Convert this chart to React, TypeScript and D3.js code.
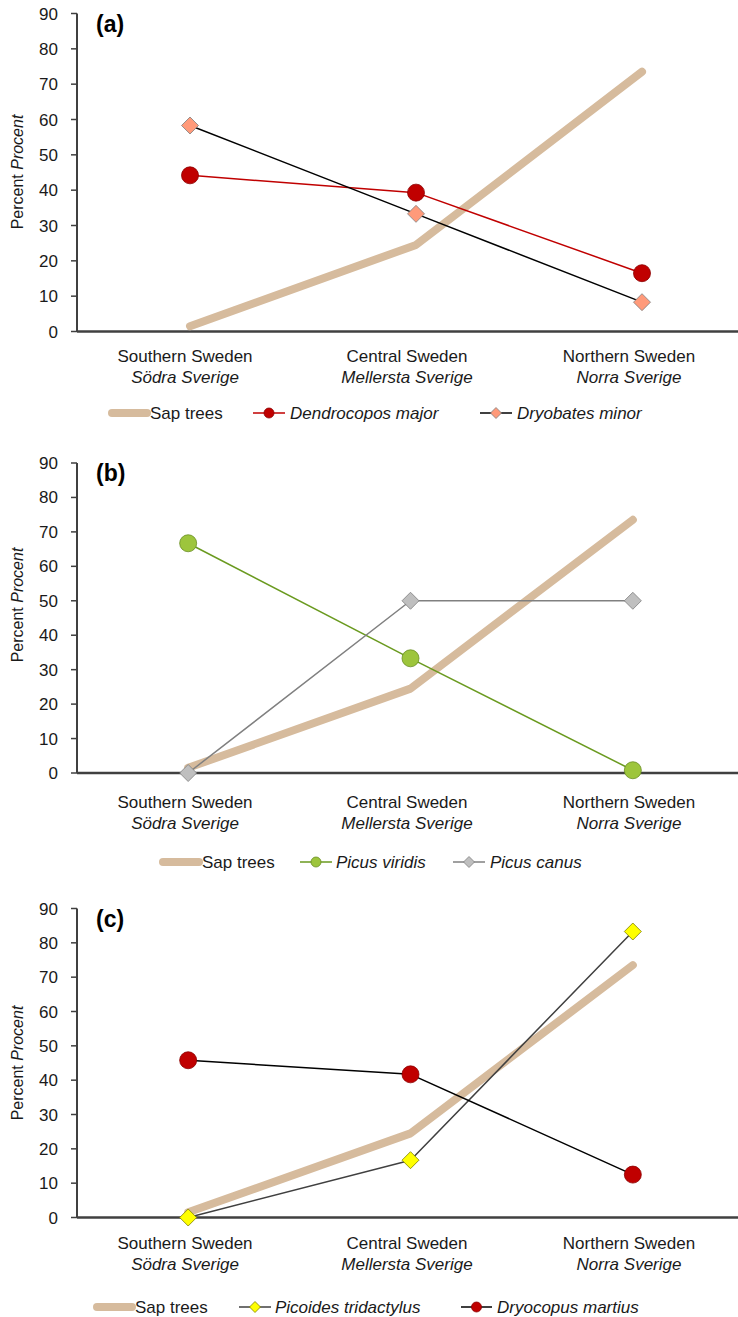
import React from "react";
import * as d3 from "d3";

const categories = ["Southern Sweden", "Central Sweden", "Northern Sweden"];
const categoriesSv = ["Södra Sverige", "Mellersta Sverige", "Norra Sverige"];
const yTicks = [0, 10, 20, 30, 40, 50, 60, 70, 80, 90];

const sapTrees = [1.5, 24.5, 73.5];
const dendrocoposMajor = [44.2, 39.3, 16.5];
const dryobatesMinor = [58.3, 33.3, 8.3];
const picusViridis = [66.7, 33.3, 0.8];
const picusCanus = [0, 50, 50];
const picoidesTridactylus = [0, 16.7, 83.3];
const dryocopusMartius = [45.8, 41.7, 12.5];

const FONT = "'Liberation Sans', Arial, Helvetica, sans-serif";
const AXIS = "#404040";
const SAP = "#D6BB9D";

type Series = {
  name: string;
  italic: boolean;
  values: number[];
  line: string;
  lw: number;
  marker: "circle" | "diamond" | "none";
  fill?: string;
  stroke?: string;
  legend: [number, number, number];
};

type Panel = {
  label: string;
  top: number;
  bottom: number;
  xRange: [number, number];
  labelOff: [number, number];
  legendY: number;
  titleY: number;
  series: Series[];
};

const sapSeries = (legend: [number, number, number]): Series => ({
  name: "Sap trees",
  italic: false,
  values: sapTrees,
  line: SAP,
  lw: 8,
  marker: "none",
  legend,
});

const panels: Panel[] = [
  {
    label: "(a)",
    top: 13.5,
    bottom: 331.5,
    xRange: [77, 755],
    labelOff: [24.5, 45.5],
    legendY: 413,
    titleY: 172,
    series: [
      sapSeries([112, 147, 150]),
      {
        name: "Dendrocopos major",
        italic: true,
        values: dendrocoposMajor,
        line: "#C00000",
        lw: 1.5,
        marker: "circle",
        fill: "#C00000",
        stroke: "#8B0000",
        legend: [253, 285, 290],
      },
      {
        name: "Dryobates minor",
        italic: true,
        values: dryobatesMinor,
        line: "#000000",
        lw: 1.5,
        marker: "diamond",
        fill: "#FF9A7A",
        stroke: "#7F7F7F",
        legend: [480, 512, 517],
      },
    ],
  },
  {
    label: "(b)",
    top: 463,
    bottom: 773,
    xRange: [77, 744],
    labelOff: [29, 50],
    legendY: 862,
    titleY: 605,
    series: [
      sapSeries([163, 199, 202]),
      {
        name: "Picus viridis",
        italic: true,
        values: picusViridis,
        line: "#6A9A1F",
        lw: 1.5,
        marker: "circle",
        fill: "#9DC53C",
        stroke: "#6A8E23",
        legend: [300, 332, 336],
      },
      {
        name: "Picus canus",
        italic: true,
        values: picusCanus,
        line: "#808080",
        lw: 1.5,
        marker: "diamond",
        fill: "#BFBFBF",
        stroke: "#7F7F7F",
        legend: [453, 485, 490],
      },
    ],
  },
  {
    label: "(c)",
    top: 908.5,
    bottom: 1217.5,
    xRange: [77, 744],
    labelOff: [25.5, 46.5],
    legendY: 1307,
    titleY: 1063,
    series: [
      sapSeries([97, 132, 135]),
      {
        name: "Picoides tridactylus",
        italic: true,
        values: picoidesTridactylus,
        line: "#404040",
        lw: 1.5,
        marker: "diamond",
        fill: "#FFFF00",
        stroke: "#7F7F00",
        legend: [239, 271, 275],
      },
      {
        name: "Dryocopus martius",
        italic: true,
        values: dryocopusMartius,
        line: "#000000",
        lw: 1.5,
        marker: "circle",
        fill: "#C00000",
        stroke: "#8B0000",
        legend: [461, 492, 497],
      },
    ],
  },
];

function Marker({ kind, x, y, size, fill, stroke }: { kind: string; x: number; y: number; size: number; fill?: string; stroke?: string }) {
  if (kind === "circle") {
    return <circle cx={x} cy={y} r={size} fill={fill} stroke={stroke} strokeWidth={0.8} />;
  }
  if (kind === "diamond") {
    const s = size;
    return (
      <path
        d={`M${x},${y - s}L${x + s},${y}L${x},${y + s}L${x - s},${y}Z`}
        fill={fill}
        stroke={stroke}
        strokeWidth={0.8}
      />
    );
  }
  return null;
}

function PanelView({ p }: { p: Panel }) {
  const x = d3.scaleBand<string>().domain(categories).range(p.xRange).padding(0);
  const xl = d3.scaleBand<string>().domain(categories).range([74, 740]).padding(0);
  const y = d3.scaleLinear().domain([0, 90]).range([p.bottom, p.top]);
  const cx = (c: string) => (x(c) ?? 0) + x.bandwidth() / 2;
  const cxl = (c: string) => (xl(c) ?? 0) + xl.bandwidth() / 2;
  const line = d3
    .line<number>()
    .x((_, i) => cx(categories[i]))
    .y((v) => y(v));

  return (
    <g>
      {/* y axis */}
      <line x1={77} x2={77} y1={y(90)} y2={y(0)} stroke={AXIS} strokeWidth={2} />
      {yTicks.map((t) => (
        <g key={t}>
          <line x1={71} x2={77} y1={y(t)} y2={y(t)} stroke={AXIS} strokeWidth={1.5} />
          <text x={58} y={y(t) + 6} textAnchor="end" fontSize={17} fill="#1a1a1a">
            {t}
          </text>
        </g>
      ))}
      {/* y title */}
      <text
        transform={`translate(23,${p.titleY}) rotate(-90)`}
        textAnchor="middle"
        fontSize={16}
        fill="#1a1a1a"
      >
        Percent <tspan fontStyle="italic">Procent</tspan>
      </text>
      {/* panel label */}
      <text x={96} y={p.top + 18} fontSize={23} fontWeight="bold" fill="#000">
        {p.label}
      </text>
      {/* x axis */}
      <line x1={77} x2={738} y1={y(0)} y2={y(0)} stroke={AXIS} strokeWidth={2.5} />
      {categories.map((c, i) => (
        <g key={c}>
          <text x={cxl(c)} y={p.bottom + p.labelOff[0] + 6} textAnchor="middle" fontSize={17} fill="#1a1a1a">
            {c}
          </text>
          <text
            x={cxl(c)}
            y={p.bottom + p.labelOff[1] + 6}
            textAnchor="middle"
            fontSize={17}
            fontStyle="italic"
            fill="#1a1a1a"
          >
            {categoriesSv[i]}
          </text>
        </g>
      ))}
      {/* series */}
      {p.series.map((s) => (
        <g key={s.name}>
          <path
            d={line(s.values) ?? ""}
            fill="none"
            stroke={s.line}
            strokeWidth={s.lw}
            strokeLinecap="round"
            strokeLinejoin="round"
          />
          {s.values.map((v, i) => (
            <Marker
              key={i}
              kind={s.marker}
              x={cx(categories[i])}
              y={y(v)}
              size={s.marker === "diamond" ? 8.5 : 8.5}
              fill={s.fill}
              stroke={s.stroke}
            />
          ))}
        </g>
      ))}
      {/* legend */}
      {p.series.map((s) => (
        <g key={"lg" + s.name}>
          <line
            x1={s.legend[0]}
            x2={s.legend[1]}
            y1={p.legendY}
            y2={p.legendY}
            stroke={s.line}
            strokeWidth={s.marker === "none" ? 8 : 1.5}
            strokeLinecap={s.marker === "none" ? "round" : "butt"}
          />
          <Marker
            kind={s.marker}
            x={(s.legend[0] + s.legend[1]) / 2}
            y={p.legendY}
            size={s.marker === "diamond" ? 5.5 : 5}
            fill={s.fill}
            stroke={s.stroke}
          />
          <text
            x={s.legend[2]}
            y={p.legendY + 6}
            fontSize={17}
            fontStyle={s.italic ? "italic" : "normal"}
            fill="#1a1a1a"
          >
            {s.name}
          </text>
        </g>
      ))}
    </g>
  );
}

export default function App() {
  return (
    <svg
      width={738}
      height={1317}
      style={{ position: "absolute", left: 0, top: 0, display: "block", background: "#fff" }}
      fontFamily={FONT}
    >
      <rect width={738} height={1317} fill="#fff" />
      {panels.map((p) => (
        <PanelView key={p.label} p={p} />
      ))}
    </svg>
  );
}
